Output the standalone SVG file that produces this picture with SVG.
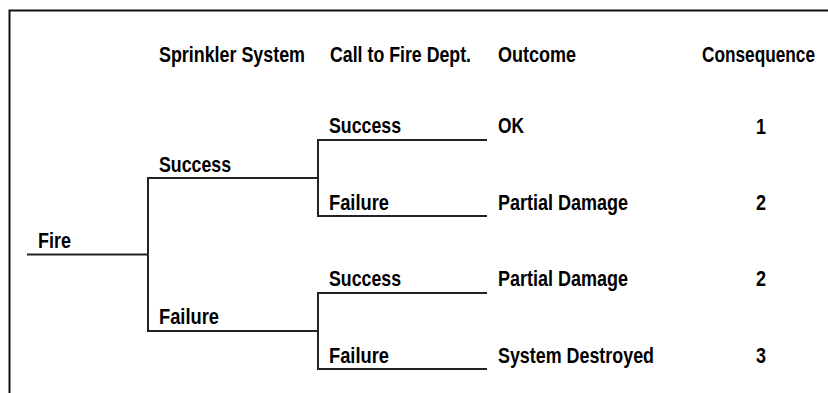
<svg xmlns="http://www.w3.org/2000/svg" width="828" height="393" viewBox="0 0 828 393">
<style>
text{font-family:"Liberation Sans Narrow","Liberation Sans",Arial,sans-serif;font-weight:bold;font-size:22px;fill:#000;}
.c{text-anchor:middle;}
.ln{stroke:#222;stroke-width:2;fill:none;}
.frame{stroke:#111;stroke-width:2;fill:none;}
</style>
<rect width="828" height="393" fill="#fff"/>
<path class="frame" d="M9.5 393 V10.5 H828"/>
<g id="headers">
<text x="159" y="62" textLength="146" lengthAdjust="spacingAndGlyphs">Sprinkler System</text>
<text x="330" y="62" textLength="141" lengthAdjust="spacingAndGlyphs">Call to Fire Dept.</text>
<text x="498" y="62" textLength="78" lengthAdjust="spacingAndGlyphs">Outcome</text>
<text x="702" y="62" textLength="113" lengthAdjust="spacingAndGlyphs">Consequence</text>
</g>
<g id="connectors">
<path class="ln" d="M27 254.5 H148"/>
<path class="ln" d="M148 254.5 V178 H318"/>
<path class="ln" d="M148 254.5 V331 H318"/>
<path class="ln" d="M318 178 V140 H487"/>
<path class="ln" d="M318 178 V216 H487"/>
<path class="ln" d="M318 331 V293 H487"/>
<path class="ln" d="M318 331 V369 H487"/>
</g>
<g id="fire"><text x="38" y="248" textLength="33" lengthAdjust="spacingAndGlyphs">Fire</text></g>
<g id="sprinkler-success"><text x="159" y="172" textLength="72" lengthAdjust="spacingAndGlyphs">Success</text></g>
<g id="sprinkler-failure"><text x="159" y="324" textLength="60" lengthAdjust="spacingAndGlyphs">Failure</text></g>
<g id="call-success-1"><text x="329" y="133" textLength="72" lengthAdjust="spacingAndGlyphs">Success</text></g>
<g id="call-failure-1"><text x="329" y="210" textLength="60" lengthAdjust="spacingAndGlyphs">Failure</text></g>
<g id="call-success-2"><text x="329" y="286" textLength="72" lengthAdjust="spacingAndGlyphs">Success</text></g>
<g id="call-failure-2"><text x="329" y="363" textLength="60" lengthAdjust="spacingAndGlyphs">Failure</text></g>
<g id="outcome-1"><text x="498" y="133" textLength="26" lengthAdjust="spacingAndGlyphs">OK</text><text class="c" x="761" y="134" textLength="10" lengthAdjust="spacingAndGlyphs">1</text></g>
<g id="outcome-2"><text x="498" y="210" textLength="130" lengthAdjust="spacingAndGlyphs">Partial Damage</text><text class="c" x="761" y="210" textLength="10" lengthAdjust="spacingAndGlyphs">2</text></g>
<g id="outcome-3"><text x="498" y="286" textLength="130" lengthAdjust="spacingAndGlyphs">Partial Damage</text><text class="c" x="761" y="286" textLength="10" lengthAdjust="spacingAndGlyphs">2</text></g>
<g id="outcome-4"><text x="498" y="363" textLength="156" lengthAdjust="spacingAndGlyphs">System Destroyed</text><text class="c" x="761" y="363" textLength="10" lengthAdjust="spacingAndGlyphs">3</text></g>
</svg>
